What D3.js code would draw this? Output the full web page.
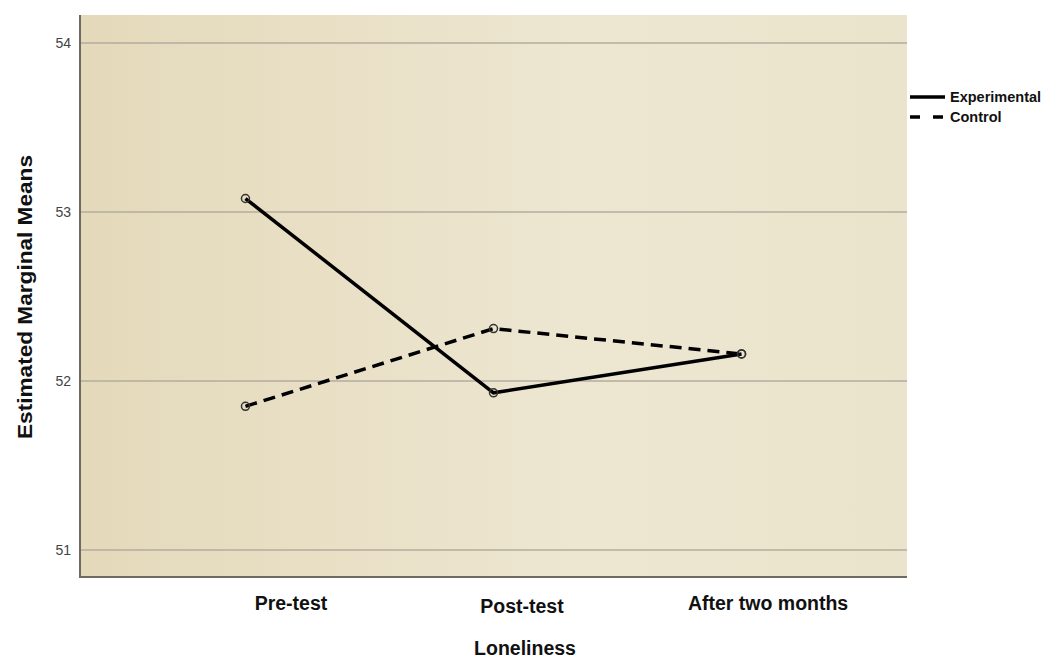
<!DOCTYPE html>
<html><head><meta charset="utf-8">
<script src="https://cdn.jsdelivr.net/npm/d3@7"></script>
<style>body{margin:0;background:#fff;} text{font-family:"Liberation Sans",Arial,sans-serif;}</style>
</head><body>
<svg id="c" width="1043" height="659"></svg>
<script>
const categories = ["Pre-test", "Post-test", "After two months"];
const experimental = [53.08, 51.93, 52.16];
const control = [51.85, 52.31, 52.16];
const seriesNames = ["Experimental", "Control"];
const yTicks = [51, 52, 53, 54];

const svg = d3.select("#c");
const L = 80, R = 907, T = 15, B = 577;
const labelShift = [45, 28, 26];
const labelDrop = [0, 3, 0];

const defs = svg.append("defs");
const g1 = defs.append("linearGradient").attr("id","bg").attr("x1","0").attr("x2","1").attr("y1","0").attr("y2","0");
g1.append("stop").attr("offset","0").attr("stop-color","#e4d9ba");
g1.append("stop").attr("offset","0.6").attr("stop-color","#ede6d1");
g1.append("stop").attr("offset","1").attr("stop-color","#ebe4cc");

const x = d3.scalePoint().domain(categories).range([L, R]).padding(0.667);
const y = d3.scaleLinear().domain([50.84, 54.166]).range([B, T]);

svg.append("rect").attr("x", L).attr("y", T).attr("width", R - L).attr("height", B - T).attr("fill", "url(#bg)");

svg.append("g").selectAll("line").data(yTicks).join("line")
  .attr("x1", L).attr("x2", R).attr("y1", d => y(d)).attr("y2", d => y(d))
  .attr("stroke", "#b3ad9f").attr("stroke-width", 1.5);

const ya = svg.append("g").attr("transform", `translate(${L},0)`)
  .call(d3.axisLeft(y).tickValues(yTicks).tickSize(0).tickPadding(9).tickFormat(d3.format("d")));
ya.select(".domain").remove();
ya.selectAll("text").attr("font-size", 14).attr("fill", "#444").style("font-family", "Liberation Sans, Arial, sans-serif");
svg.append("line").attr("x1", L).attr("x2", L).attr("y1", T).attr("y2", B + 1).attr("stroke", "#6e6a62").attr("stroke-width", 2);
svg.append("line").attr("x1", L - 1).attr("x2", R).attr("y1", B).attr("y2", B).attr("stroke", "#6e6a62").attr("stroke-width", 2);

const xa = svg.append("g").attr("transform", `translate(0,${B})`)
  .call(d3.axisBottom(x).tickSize(0).tickPadding(19));
xa.select(".domain").remove();
xa.selectAll("text").attr("font-size", 19.5).attr("font-weight", "bold").attr("fill", "#111")
  .attr("dx", (d, i) => labelShift[i])
  .attr("transform", (d, i) => `translate(0,${labelDrop[i]})`)
  .style("font-family", "Liberation Sans, Arial, sans-serif");

svg.append("text").attr("x", 525).attr("y", 655).attr("text-anchor", "middle")
  .attr("font-size", 19.5).attr("font-weight", "bold").attr("fill", "#111").text("Loneliness");
svg.append("text").attr("transform", "translate(32,297) rotate(-90)").attr("text-anchor", "middle")
  .attr("font-size", 20).attr("font-weight", "bold").attr("fill", "#111")
  .attr("textLength", 284).attr("lengthAdjust", "spacingAndGlyphs").text("Estimated Marginal Means");

const line = d3.line().x((d, i) => x(categories[i])).y(d => y(d));
const series = [
  {name: seriesNames[0], values: experimental, dash: null},
  {name: seriesNames[1], values: control, dash: "12,7"}
];
series.forEach(s => {
  svg.append("path").datum(s.values).attr("d", line).attr("fill", "none")
    .attr("stroke", "#000").attr("stroke-width", 3.5).attr("stroke-dasharray", s.dash);
});
series.forEach(s => {
  svg.append("g").selectAll("circle").data(s.values).join("circle")
    .attr("cx", (d, i) => x(categories[i])).attr("cy", d => y(d)).attr("r", 4)
    .attr("fill", "none").attr("stroke", "#333").attr("stroke-width", 1.5);
});

const lg = svg.append("g");
series.forEach((s, i) => {
  const ly = 97 + i * 20;
  lg.append("line").attr("x1", 910).attr("x2", 945).attr("y1", ly).attr("y2", ly)
    .attr("stroke", "#000").attr("stroke-width", 3.5).attr("stroke-dasharray", s.dash ? "10,13" : null);
  lg.append("text").attr("x", 950).attr("y", ly + 5).attr("font-size", 14.5).attr("font-weight", "bold")
    .attr("fill", "#111").text(s.name);
});
</script>
</body></html>
